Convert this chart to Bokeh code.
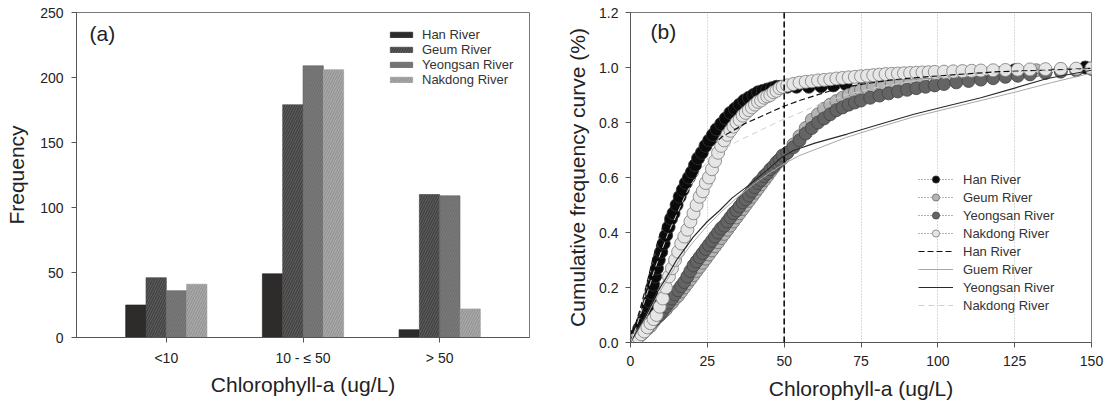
from bokeh.plotting import figure
from bokeh.layouts import row
from bokeh.models import Legend, LegendItem, Span, Label, FixedTicker, PrintfTickFormatter
from bokeh.embed import file_html
from bokeh.resources import INLINE

FONT = "Liberation Sans"

# ---------------- Panel (a) data ----------------
cat_labels = ["<10", "10 - \u2264 50", "> 50"]
cat_pos = [1, 2, 3]
han_freq = [25, 49, 6]
geum_freq = [46, 179, 110]
yeong_freq = [36, 209, 109]
nak_freq = [41, 206, 22]
rivers = ["Han River", "Geum River", "Yeongsan River", "Nakdong River"]

# ---------------- Panel (b) data ----------------
han_x = [0.5, 1.2, 2, 2.8, 3.5, 4.2, 5, 5.6, 6.2, 6.8, 7.4, 8, 8.6, 9.2, 10, 10.8, 11.6, 12.4, 13.2, 14,
         15, 16, 17, 18, 19, 20, 21, 22, 23.2, 24.4, 25.6, 26.8, 28, 29.5, 31, 32.5, 34, 35.5, 37, 38.5,
         40, 41.5, 43, 44.5, 46, 47.5, 49, 51, 54, 58, 62, 66, 70, 76, 85, 95, 110, 125, 148]
han_y = [0.01, 0.02, 0.03, 0.05, 0.06, 0.08, 0.10, 0.13, 0.15, 0.18, 0.21, 0.24, 0.27, 0.30, 0.33, 0.36, 0.39, 0.42, 0.45, 0.47,
         0.50, 0.53, 0.555, 0.58, 0.60, 0.62, 0.645, 0.67, 0.69, 0.715, 0.735, 0.755, 0.775, 0.795, 0.815, 0.835, 0.85, 0.865, 0.88, 0.89,
         0.90, 0.91, 0.915, 0.92, 0.925, 0.93, 0.93, 0.93, 0.93, 0.93, 0.932, 0.935, 0.94, 0.95, 0.96, 0.97, 0.98, 0.99, 1.0]

grid_x = [0.5, 1.5, 2.5, 3.5, 4.5, 5.5, 6.5, 7.5, 8.5, 9.5, 10.5, 11.5, 12.5, 13.5, 14.5, 15.5, 16.5, 17.5, 18.5, 19.5,
          20.5, 21.5, 22.5, 23.5, 24.5, 25.5, 26.5, 27.5, 28.5, 29.5, 30.5, 31.5, 32.5, 33.5, 34.5, 35.5, 36.5, 37.5, 38.5, 39.5,
          40.5, 41.5, 42.5, 43.5, 44.5, 45.5, 46.5, 47.5, 48.5, 49.5]

geum_x = grid_x + [51, 53, 55, 57, 59, 61, 63, 65, 67, 69, 71, 73, 75, 77, 79, 82, 85, 88, 91, 95, 100, 105, 110, 115, 120,
                   126, 132, 140, 150]
geum_y = [0.005, 0.01, 0.02, 0.03, 0.04, 0.05, 0.06, 0.075, 0.09, 0.10, 0.11, 0.12, 0.135, 0.145, 0.16, 0.17, 0.185, 0.2, 0.215, 0.23,
          0.245, 0.26, 0.275, 0.29, 0.305, 0.32, 0.335, 0.35, 0.365, 0.38, 0.395, 0.41, 0.425, 0.44, 0.455, 0.47, 0.485, 0.5, 0.515, 0.53,
          0.545, 0.56, 0.575, 0.59, 0.605, 0.62, 0.635, 0.65, 0.66, 0.67,
          0.69, 0.72, 0.75, 0.78, 0.81, 0.83, 0.85, 0.865, 0.878, 0.89, 0.9, 0.91, 0.918, 0.925, 0.93, 0.935, 0.94, 0.945, 0.95,
          0.955, 0.96, 0.965, 0.97, 0.975, 0.98, 0.985, 0.99, 0.993, 0.997]

yeong_x = grid_x + [51, 53, 55, 57, 59, 61, 63, 65, 67, 69, 71, 73, 75, 78, 81, 84, 87, 90, 93, 96, 99, 102, 106, 110, 114,
                    118, 122, 126, 130, 135, 140, 145, 150]
yeong_y = [0.005, 0.01, 0.02, 0.03, 0.045, 0.055, 0.07, 0.08, 0.09, 0.10, 0.115, 0.13, 0.145, 0.16, 0.175, 0.19, 0.205, 0.22, 0.24, 0.26,
           0.28, 0.295, 0.31, 0.325, 0.34, 0.355, 0.37, 0.385, 0.4, 0.415, 0.425, 0.44, 0.455, 0.47, 0.48, 0.495, 0.51, 0.52, 0.535, 0.55,
           0.565, 0.58, 0.59, 0.605, 0.615, 0.63, 0.64, 0.655, 0.665, 0.68,
           0.69, 0.71, 0.735, 0.76, 0.78, 0.8, 0.815, 0.83, 0.845, 0.855, 0.865, 0.873, 0.88, 0.89, 0.898, 0.906, 0.913, 0.919,
           0.925, 0.93, 0.935, 0.94, 0.946, 0.951, 0.956, 0.961, 0.966, 0.97, 0.975, 0.98, 0.985, 0.99, 0.995]

nak_x = grid_x + [51, 53, 55, 57, 59, 61, 63, 65, 67, 69, 71, 73, 75, 77, 79, 81, 83, 85, 87, 89, 91, 93, 95, 97, 99,
                  102, 105, 108, 111, 114, 118, 122, 126, 130, 135, 140, 145, 150]
nak_y = [0.0, 0.01, 0.02, 0.03, 0.04, 0.055, 0.07, 0.085, 0.10, 0.13, 0.16, 0.20, 0.24, 0.27, 0.30, 0.33, 0.36, 0.385, 0.41, 0.44,
         0.47, 0.50, 0.53, 0.55, 0.58, 0.60, 0.63, 0.66, 0.69, 0.715, 0.735, 0.755, 0.77, 0.785, 0.80, 0.81, 0.825, 0.835, 0.845, 0.855,
         0.865, 0.875, 0.88, 0.89, 0.895, 0.90, 0.91, 0.915, 0.925, 0.93,
         0.935, 0.94, 0.945, 0.948, 0.95, 0.953, 0.955, 0.957, 0.96, 0.962, 0.964, 0.966, 0.968, 0.97, 0.972, 0.974, 0.976,
         0.977, 0.978, 0.979, 0.98, 0.981, 0.982, 0.983, 0.984, 0.985, 0.986, 0.987, 0.988, 0.989, 0.99, 0.991, 0.992,
         0.993, 0.994, 0.995, 0.996, 0.997]

# fitted curves
han_fit_x = [0, 1, 2, 3, 5, 7.4, 9.5, 11.7, 14, 16, 18, 20.4, 23, 26.9, 30, 33.4, 37, 42.1, 46, 49.7, 55, 61.8, 68, 75.9,
             85, 95, 107, 120, 135, 150]
han_fit_y = [0, 0.04, 0.08, 0.116, 0.2, 0.31, 0.39, 0.456, 0.51, 0.553, 0.6, 0.637, 0.68, 0.72, 0.75, 0.77, 0.795, 0.82, 0.84,
             0.858, 0.88, 0.904, 0.925, 0.94, 0.955, 0.965, 0.975, 0.985, 0.99, 0.997]
guem_fit_x = [0, 2, 5, 8, 12, 16, 20, 25, 30, 35, 40, 45, 50, 55, 62, 70, 80, 92, 103, 114, 125, 137, 150]
guem_fit_y = [0, 0.035, 0.09, 0.155, 0.23, 0.3, 0.36, 0.425, 0.48, 0.53, 0.575, 0.615, 0.65, 0.68, 0.71, 0.745, 0.78, 0.82,
              0.85, 0.88, 0.91, 0.945, 0.98]
yeong_fit_x = [0, 2, 5, 8, 11.7, 15, 20.4, 25, 29, 33, 37.7, 44.3, 48.8, 53, 60, 70.5, 80, 92.2, 103, 114, 125, 135.6, 150]
yeong_fit_y = [0, 0.04, 0.1, 0.17, 0.237, 0.3, 0.383, 0.44, 0.48, 0.525, 0.565, 0.625, 0.67, 0.698, 0.725, 0.758, 0.79,
               0.83, 0.86, 0.89, 0.925, 0.96, 0.99]
nak_fit_x = [0, 2, 4, 6, 8, 10, 12, 14, 16, 18, 20, 23, 26, 30, 34.5, 42, 48.8, 53, 61.8, 70, 81, 95, 110, 125, 140, 150]
nak_fit_y = [0, 0.06, 0.13, 0.2, 0.27, 0.33, 0.39, 0.44, 0.49, 0.54, 0.58, 0.63, 0.67, 0.7, 0.73, 0.77, 0.807, 0.825, 0.868,
             0.9, 0.93, 0.955, 0.97, 0.983, 0.99, 0.995]

x_ticks_b = [0, 25, 50, 75, 100, 125, 150]
y_ticks_b = [0.0, 0.2, 0.4, 0.6, 0.8, 1.0, 1.2]
y_ticks_a = [0, 50, 100, 150, 200, 250]
threshold = 50


def style_axes(p):
    for ax in (p.xaxis[0], p.yaxis[0]):
        ax.axis_line_color = "#555555"
        ax.major_tick_line_color = "#555555"
        ax.minor_tick_line_color = None
        ax.major_tick_out = 5
        ax.major_tick_in = 0
        ax.major_label_text_font = FONT
        ax.major_label_text_font_size = "14px"
        ax.major_label_text_color = "#222222"
        ax.axis_label_text_font = FONT
        ax.axis_label_text_font_size = "21px"
        ax.axis_label_text_font_style = "normal"
        ax.axis_label_text_color = "#222222"
    p.outline_line_color = "#777777"
    p.background_fill_color = "white"
    p.border_fill_color = "white"


# ---------------- Panel (a) ----------------
p1 = figure(width=560, height=405, x_range=(0.343, 3.657), y_range=(0, 250),
            output_backend="svg", toolbar_location=None,
            min_border_left=76, min_border_right=31, min_border_top=12, min_border_bottom=68)
style_axes(p1)
p1.xgrid.visible = False
p1.ygrid.visible = False
p1.xaxis.ticker = FixedTicker(ticks=cat_pos)
p1.xaxis.major_label_overrides = {c: l for c, l in zip(cat_pos, cat_labels)}
p1.yaxis.ticker = FixedTicker(ticks=y_ticks_a)
p1.xaxis.axis_label = "Chlorophyll-a (ug/L)"
p1.yaxis.axis_label = "Frequency"
p1.xaxis.major_label_standoff = 7
p1.xaxis.axis_label_standoff = 4
p1.yaxis.major_label_standoff = 8
p1.yaxis.axis_label_standoff = 9

bw = 0.1486
offsets = [-1.5 * bw, -0.5 * bw, 0.5 * bw, 1.5 * bw]
styles = [
    dict(fill_color="#2e2b2b", line_color="#1a1a1a", hatch_pattern=None),
    dict(fill_color="#5a5a5a", line_color="#4a4a4a", hatch_pattern="/", hatch_color="#3a3a3a"),
    dict(fill_color="#6f6f6f", line_color="#666666", hatch_pattern="/", hatch_color="#7b7b7b"),
    dict(fill_color="#a9a9a9", line_color="#a0a0a0", hatch_pattern="/", hatch_color="#8e8e8e"),
]
bar_renderers = []
for vals, off, st in zip([han_freq, geum_freq, yeong_freq, nak_freq], offsets, styles):
    xs = [c + off for c in cat_pos]
    kw = dict(fill_color=st["fill_color"], line_color=st["line_color"], line_width=0.6)
    if st["hatch_pattern"]:
        kw.update(hatch_pattern=st["hatch_pattern"], hatch_color=st["hatch_color"],
                  hatch_scale=5, hatch_weight=1)
    r = p1.vbar(x=xs, top=vals, bottom=0, width=bw, **kw)
    bar_renderers.append(r)

leg1 = Legend(items=[LegendItem(label=n, renderers=[r]) for n, r in zip(rivers, bar_renderers)],
              location=(311, 250), orientation="vertical")
leg1.glyph_width = 28
leg1.glyph_height = 7
leg1.label_height = 13
leg1.spacing = 0
leg1.label_standoff = 7
leg1.padding = 0
leg1.margin = 0
leg1.border_line_alpha = 0
leg1.background_fill_alpha = 0
leg1.label_text_font = FONT
leg1.label_text_font_size = "13px"
leg1.label_text_color = "#333333"
p1.add_layout(leg1, "center")
p1.add_layout(Label(x=0.438, y=234, text="(a)", text_font=FONT, text_font_size="21px",
                    text_baseline="middle", text_color="#222222"))

# ---------------- Panel (b) ----------------
p2 = figure(width=552, height=410, x_range=(0, 150), y_range=(0, 1.2),
            output_backend="svg", toolbar_location=None,
            min_border_left=70, min_border_right=21, min_border_top=12, min_border_bottom=68)
style_axes(p2)
p2.xaxis.ticker = FixedTicker(ticks=x_ticks_b)
p2.yaxis.ticker = FixedTicker(ticks=y_ticks_b)
p2.yaxis.formatter = PrintfTickFormatter(format="%.1f")
p2.xaxis.axis_label = "Chlorophyll-a (ug/L)"
p2.yaxis.axis_label = "Cumulative frequency curve (%)"
p2.xaxis.major_label_standoff = 8
p2.xaxis.axis_label_standoff = 8
p2.yaxis.major_label_standoff = 7
p2.yaxis.axis_label_standoff = 7
p2.ygrid.visible = False
p2.xgrid.ticker = FixedTicker(ticks=x_ticks_b)
p2.xgrid.grid_line_color = "#b5b5b5"
p2.xgrid.grid_line_dash = "1 2"
p2.xgrid.grid_line_width = 1

marker_specs = [
    ("Han River", han_x, han_y, "#0a0a0a", "#333333"),
    ("Geum River", geum_x, geum_y, "#b4b4b4", "#6a6a6a"),
    ("Yeongsan River", yeong_x, yeong_y, "#646464", "#444444"),
    ("Nakdong River", nak_x, nak_y, "#e6e6e6", "#7a7a7a"),
]
marker_items = []
for name, xs, ys, fc, lc in marker_specs:
    ln = p2.line(xs, ys, line_color="#666666", line_dash="1 2", line_width=1)
    sc = p2.scatter(xs, ys, marker="circle", size=13, fill_color=fc, line_color=lc, line_width=0.8)
    marker_items.append(LegendItem(label=name, renderers=[ln, sc]))

fit_specs = [
    ("Han River", han_fit_x, han_fit_y, "#111111", "6 3", 1.2),
    ("Guem River", guem_fit_x, guem_fit_y, "#a8a8a8", "solid", 1.0),
    ("Yeongsan River", yeong_fit_x, yeong_fit_y, "#2a2a2a", "solid", 1.2),
    ("Nakdong River", nak_fit_x, nak_fit_y, "#cfcfcf", "6 4", 1.0),
]
fit_items = []
for name, xs, ys, c, dash, w in fit_specs:
    r = p2.line(xs, ys, line_color=c, line_dash=dash, line_width=w)
    fit_items.append(LegendItem(label=name, renderers=[r]))

p2.add_layout(Span(location=threshold, dimension="height", line_color="#000000",
                   line_dash="6 3", line_width=1.5))

leg2 = Legend(items=marker_items + fit_items, location=(288, 28), orientation="vertical")
leg2.glyph_width = 35
leg2.glyph_height = 18
leg2.label_height = 13
leg2.spacing = 0
leg2.label_standoff = 10
leg2.padding = 0
leg2.margin = 0
leg2.border_line_alpha = 0
leg2.background_fill_alpha = 0
leg2.label_text_font = FONT
leg2.label_text_font_size = "13px"
leg2.label_text_color = "#333333"
p2.add_layout(leg2, "center")
p2.add_layout(Label(x=6.5, y=1.13, text="(b)", text_font=FONT, text_font_size="21px",
                    text_baseline="middle", text_color="#222222"))

layout = row(p1, p2)
open("out.html", "w").write(file_html(layout, INLINE))
